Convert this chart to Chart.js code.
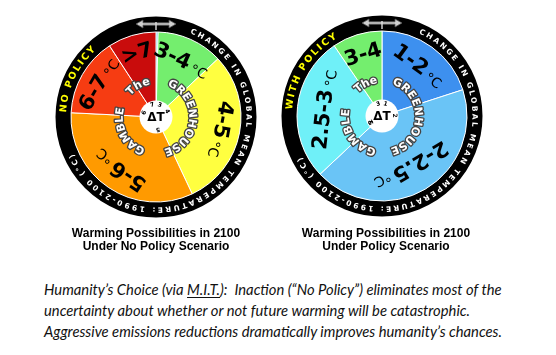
<!DOCTYPE html>
<html><head><meta charset="utf-8">
<script src="https://cdn.jsdelivr.net/npm/chart.js@4"></script>
<style>
html,body{margin:0;padding:0;background:#fff;width:556px;height:355px;overflow:hidden;position:relative}
.wheel{position:absolute;width:230px;height:230px}
#w1{left:41px;top:2px}
#w2{left:267px;top:1px}
.title{position:absolute;width:240px;text-align:center;font:bold 12px "Liberation Sans",Arial,sans-serif;line-height:12.5px;color:#000}
#t1{left:36px;top:227px}
#t2{left:266px;top:227px}
#cap{position:absolute;left:44px;top:279px;font:italic 14px Lato,sans-serif;line-height:21px;color:#111;white-space:nowrap}
#cap u{text-decoration-thickness:1px;text-underline-offset:2px}
</style></head><body>
<div class="wheel" id="w1"><canvas id="c1" width="230" height="230"></canvas></div>
<div class="wheel" id="w2"><canvas id="c2" width="230" height="230"></canvas></div>
<div class="title" id="t1">Warming Possibilities in 2100<br>Under No Policy Scenario</div>
<div class="title" id="t2">Warming Possibilities in 2100<br>Under Policy Scenario</div>
<div id="cap">
<div class="ln">Humanity’s Choice (via <u>M.I.T.</u>):&nbsp; Inaction (“No Policy”) eliminates most of the</div>
<div class="ln">uncertainty about whether or not future warming will be catastrophic.</div>
<div class="ln" id="ln3">Aggressive emissions reductions dramatically improves humanity’s chances.</div>
</div>
<script>
// ---- data ----
const noPolicyCategories = ['<3', '3–4', '4–5', '5–6', '6–7', '>7'];
const noPolicyValues = [0.4, 12.6, 30, 32.8, 15, 9.2];
const noPolicyLabels = ['', '3-4', '4-5', '5-6', '6-7', '>7'];
const noPolicyUnits = ['', '°C', '°C', '°C', '°C', ''];
const noPolicyBounds = ['', '3', '4', '5', '6', '7'];

const policyCategories = ['1–2', '2–2.5', '2.5–3', '3–4'];
const policyValues = [20, 43, 27.5, 9.5];
const policyLabels = ['1-2', '2-2.5', '2.5-3', '3-4'];
const policyUnits = ['°C', '°C', '°C', ''];
const policyBounds = ['1', '2', '2.5', '3'];

const noPolicyColors = ['#2aa7e1', '#74ee6e', '#ffff40', '#ff9a00', '#f63c12', '#c90c0c'];
const policyColors = ['#3d90ef', '#6ac4f6', '#6ff0f8', '#74ee6e'];

// ---- fit caption font ----
(function(){
  const cap = document.getElementById('cap');
  const l3 = document.getElementById('ln3');
  const w = l3.getBoundingClientRect().width;
  const fs = 14 * 458 / w;
  cap.style.fontSize = fs.toFixed(2) + 'px';
})();

function arcText(ctx, cx, cy, r, text, a0, a1, font, fill, stroke, lw) {
  ctx.save();
  ctx.font = font;
  ctx.textAlign = 'center';
  ctx.textBaseline = 'middle';
  const chars = [...text];
  const ws = chars.map(c => ctx.measureText(c).width);
  const total = ws.reduce((a, b) => a + b, 0);
  const arcLen = (a1 - a0) * Math.PI / 180 * r;
  const gap = chars.length > 1 ? (arcLen - total) / (chars.length - 1) : 0;
  let pos = 0;
  chars.forEach((c, i) => {
    const s = pos + ws[i] / 2;
    const th = a0 * Math.PI / 180 + s / r;
    pos += ws[i] + gap;
    if (c === ' ') return;
    ctx.save();
    ctx.translate(cx + r * Math.sin(th), cy - r * Math.cos(th));
    ctx.rotate(th);
    if (stroke) {
      ctx.lineWidth = lw || 2.5;
      ctx.strokeStyle = stroke;
      ctx.lineJoin = 'round';
      ctx.strokeText(c, 0, 0);
    }
    ctx.fillStyle = fill;
    ctx.fillText(c, 0, 0);
    ctx.restore();
  });
  ctx.restore();
}

function makeWheelPlugin(cfg) {
  return {
    id: 'wheel',
    beforeDatasetsDraw(chart) {
      const ctx = chart.ctx;
      const meta = chart.getDatasetMeta(0);
      const a = meta.data[0];
      const cx = a.x, cy = a.y;
      ctx.save();
      ctx.beginPath();
      ctx.arc(cx, cy, 92.5, 0, Math.PI * 2);
      ctx.lineWidth = 16;
      ctx.strokeStyle = '#000';
      ctx.stroke();
      ctx.restore();
    },
    afterDatasetsDraw(chart) {
      const ctx = chart.ctx;
      const meta = chart.getDatasetMeta(0);
      const cx = meta.data[0].x, cy = meta.data[0].y;
      const big = 'bold 21px "DejaVu Sans", sans-serif';
      const small = '14px "DejaVu Sans", sans-serif';
      // slice labels
      meta.data.forEach((arc, i) => {
        const txt = cfg.labels[i];
        if (!txt) return;
        const mid = (arc.startAngle + arc.endAngle) / 2;
        const r = cfg.labelR[i];
        ctx.save();
        ctx.translate(cx + r * Math.cos(mid), cy + r * Math.sin(mid));
        ctx.rotate(mid + Math.PI / 2);
        ctx.textBaseline = 'alphabetic';
        ctx.textAlign = 'left';
        ctx.font = big;
        const w1 = ctx.measureText(txt).width;
        ctx.font = small;
        const unit = cfg.units[i];
        const w2 = unit ? ctx.measureText(unit).width + 3 : 0;
        const x0 = -(w1 + w2) / 2;
        ctx.fillStyle = '#000';
        ctx.font = big;
        ctx.fillText(txt, x0, 8);
        if (unit) {
          ctx.font = small;
          ctx.fillText(unit, x0 + w1 + 3, 10);
        }
        ctx.restore();
      });
      // center disc
      ctx.save();
      ctx.beginPath();
      ctx.arc(cx, cy, 16.5, 0, Math.PI * 2);
      ctx.fillStyle = '#fff';
      ctx.fill();
      ctx.fillStyle = '#000';
      ctx.font = 'bold 12px "DejaVu Sans", sans-serif';
      ctx.textAlign = 'center';
      ctx.textBaseline = 'middle';
      ctx.fillText('ΔT', cx, cy + 1);
      ctx.restore();
      // small bound numbers
      meta.data.forEach((arc, i) => {
        const b = cfg.bounds[i];
        if (!b) return;
        const th = arc.startAngle + Math.PI / 2 + 0.12;
        arcText(ctx, cx, cy, 12.5, b, th * 180 / Math.PI, th * 180 / Math.PI + (b.length > 1 ? 14 : 0.1), 'bold 6px "DejaVu Sans", sans-serif', '#000');
      });
      // inner words
      const f = 'bold 11px "DejaVu Sans", sans-serif';
      arcText(ctx, cx, cy, 36, 'The', cfg.the[0], cfg.the[1], f, '#fff', '#444', 2.6);
      arcText(ctx, cx, cy, 36, 'GREENHOUSE', cfg.green[0], cfg.green[1], f, '#fff', '#444', 2.6);
      arcText(ctx, cx, cy, 36, 'GAMBLE', cfg.gamble[0], cfg.gamble[1], f, '#fff', '#444', 2.6);
      // ring texts
      arcText(ctx, cx, cy, 92.5, cfg.policy, cfg.policyA[0], cfg.policyA[1], 'bold 9.5px "DejaVu Sans", sans-serif', '#ffff00');
      arcText(ctx, cx, cy, 92.5, 'CHANGE IN GLOBAL MEAN TEMPERATURE: 1990-2100 (°C)', cfg.ringA[0], cfg.ringA[1], 'bold 7.5px "DejaVu Sans", sans-serif', '#fff');
      // top arrow
      ctx.save();
      const ay = cy - 93;
      ctx.fillStyle = '#d0d0d0';
      ctx.strokeStyle = '#555';
      ctx.lineWidth = 0.8;
      ctx.beginPath();
      ctx.moveTo(cx - 20, ay);
      ctx.lineTo(cx - 13, ay - 4);
      ctx.lineTo(cx - 13, ay - 1.2);
      ctx.lineTo(cx + 13, ay - 1.2);
      ctx.lineTo(cx + 13, ay - 4);
      ctx.lineTo(cx + 20, ay);
      ctx.lineTo(cx + 13, ay + 4);
      ctx.lineTo(cx + 13, ay + 1.2);
      ctx.lineTo(cx - 13, ay + 1.2);
      ctx.lineTo(cx - 13, ay + 4);
      ctx.closePath();
      ctx.fill();
      ctx.stroke();
      ctx.fillStyle = '#ddd';
      ctx.fillRect(cx - 0.7, ay - 2, 1.4, 8);
      ctx.restore();
    }
  };
}

function makeWheel(id, values, colors, cfg, cats) {
  new Chart(document.getElementById(id), {
    type: 'doughnut',
    data: {
      labels: cats,
      datasets: [{
        data: values,
        backgroundColor: colors,
        borderColor: '#ffffff',
        borderWidth: 1
      }]
    },
    options: {
      responsive: false,
      animation: false,
      events: [],
      radius: 85,
      cutout: 16,
      plugins: { legend: { display: false }, tooltip: { enabled: false } }
    },
    plugins: [makeWheelPlugin(cfg)]
  });
}

makeWheel('c1', noPolicyValues, noPolicyColors, {
  labels: noPolicyLabels, units: noPolicyUnits, bounds: noPolicyBounds,
  labelR: [0, 64, 68, 66, 68, 68],
  the: [310, 350], green: [20, 166], gamble: [199, 285],
  policy: 'NO POLICY', policyA: [273, 318], ringA: [22, 246]
}, noPolicyCategories);

makeWheel('c2', policyValues, policyColors, {
  labels: policyLabels, units: policyUnits, bounds: policyBounds,
  labelR: [64, 60, 60, 66],
  the: [314, 352], green: [18, 165], gamble: [190, 281],
  policy: 'WITH POLICY', policyA: [274, 330], ringA: [24, 243]
}, policyCategories);
</script>
</body></html>
